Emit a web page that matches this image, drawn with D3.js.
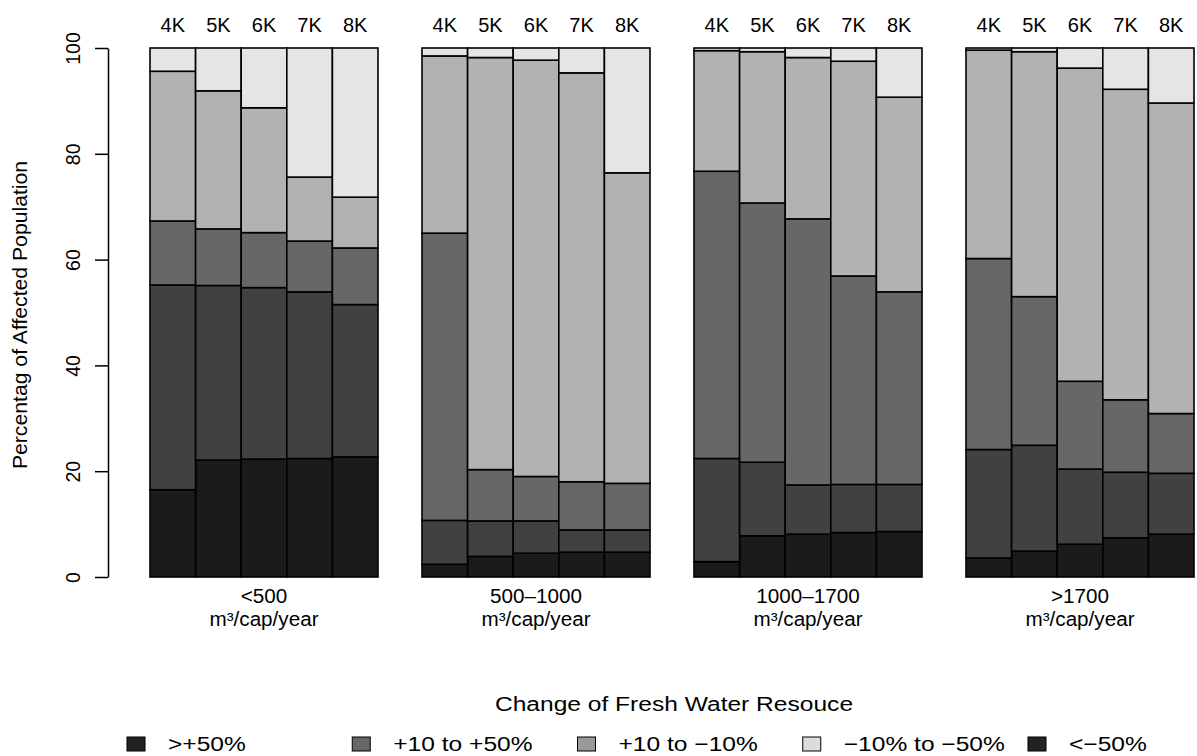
<!DOCTYPE html>
<html>
<head>
<meta charset="utf-8">
<script src="https://cdn.jsdelivr.net/npm/d3@7"></script>
<style>
  body { margin: 0; background: #fff; }
  svg text { font-family: "Liberation Sans", Arial, Helvetica, sans-serif; fill: #000; }
</style>
</head>
<body>
<script>
// regions of per-capita fresh water, one panel each
const regions = ['<500', '500\u20131000', '1000\u20131700', '>1700'];
const unitLabel = 'm\u00b3/cap/year';
const scenarios = ['4K', '5K', '6K', '7K', '8K'];

// change classes, stacked bottom -> top
const classes = ['c1', 'c2', 'c3', 'c4', 'c5'];
const barColors = ['#1b1b1b', '#414141', '#676767', '#b2b2b2', '#e5e5e5'];

const legendLabels = ['>+50%', '+10 to +50%', '+10 to \u221210%', '\u221210% to \u221250%', '<\u221250%'];
const legendColors = ['#222222', '#666666', '#999999', '#dcdcdc', '#222222'];

// percentage of affected population, rows = scenarios, cols = classes (bottom -> top)
const below500 = [
    [16.5, 38.7, 12.1, 28.3, 4.4],
    [22.1, 33.0, 10.7, 26.1, 8.1],
    [22.3, 32.4, 10.4, 23.6, 11.3],
    [22.4, 31.5, 9.6, 12.1, 24.4],
    [22.7, 28.8, 10.7, 9.6, 28.2]
];
const from500to1000 = [
    [2.4, 8.3, 54.3, 33.5, 1.5],
    [3.9, 6.7, 9.7, 77.9, 1.8],
    [4.5, 6.1, 8.4, 78.7, 2.3],
    [4.7, 4.2, 9.1, 77.3, 4.7],
    [4.7, 4.2, 8.8, 58.7, 23.6]
];
const from1000to1700 = [
    [2.9, 19.5, 54.3, 22.8, 0.5],
    [7.8, 13.9, 49.0, 28.6, 0.7],
    [8.1, 9.3, 50.3, 30.5, 1.8],
    [8.4, 9.1, 39.4, 40.6, 2.5],
    [8.6, 8.9, 36.4, 36.8, 9.3]
];
const above1700 = [
    [3.6, 20.5, 36.1, 39.4, 0.4],
    [4.9, 20.0, 28.1, 46.3, 0.7],
    [6.2, 14.2, 16.6, 59.2, 3.8],
    [7.4, 12.4, 13.7, 58.7, 7.8],
    [8.1, 11.5, 11.3, 58.7, 10.4]
];
const panelValues = [below500, from500to1000, from1000to1700, above1700];

const yTicks = [0, 20, 40, 60, 80, 100];

const W = 1197, H = 756;
const O = {
    plotLeft: 150,
    plotRight: 1194,
    plotTop: 48,
    plotBottom: 577,
    axisX: 108,
    fontSize: 19.5
};

const svg = d3.select('body').append('svg')
    .attr('width', W)
    .attr('height', H);

const x0 = d3.scaleBand()
    .domain(regions)
    .range([O.plotLeft, O.plotRight])
    .paddingInner(44 / 272)
    .paddingOuter(0);

const x1 = d3.scaleBand()
    .domain(scenarios)
    .range([0, x0.bandwidth()])
    .padding(0);

const y = d3.scaleLinear()
    .domain([0, 100])
    .range([O.plotBottom, O.plotTop]);

const color = d3.scaleOrdinal().domain(classes).range(barColors);

// text helper, with slight horizontal stretch to mimic the original glyph width
function label(g, txt, x, yy, opts = {}) {
    const rot = opts.rotate || 0;
    const sx = opts.sx || 1;
    return g.append('text')
        .attr('transform', `translate(${x},${yy}) rotate(${rot}) scale(${sx},1)`)
        .attr('text-anchor', opts.anchor || 'middle')
        .attr('font-size', opts.size || O.fontSize)
        .text(txt);
}

const stack = d3.stack().keys(classes);

regions.forEach((region, gi) => {
    const rows = panelValues[gi].map((vals, i) => {
        const row = { scenario: scenarios[i] };
        classes.forEach((c, k) => { row[c] = vals[k]; });
        return row;
    });
    const series = stack(rows);
    const panel = svg.append('g')
        .attr('transform', `translate(${x0(region)},0)`);

    panel.selectAll('g.layer')
        .data(series)
        .join('g')
        .attr('class', 'layer')
        .attr('fill', d => color(d.key))
        .selectAll('rect')
        .data(d => d)
        .join('rect')
        .attr('x', d => x1(d.data.scenario))
        .attr('y', d => y(d[1]))
        .attr('width', x1.bandwidth())
        .attr('height', d => y(d[0]) - y(d[1]))
        .attr('stroke', '#000')
        .attr('stroke-width', 1.6);

    // scenario labels on top
    scenarios.forEach(s => {
        label(panel, s, x1(s) + x1.bandwidth() / 2, 32, { size: 20 });
    });

    // region labels underneath
    const cx = x0.bandwidth() / 2;
    label(panel, region, cx, 603, { sx: 1.06 });
    label(panel, unitLabel, cx, 626, { sx: 1.06 });
});

// y axis
const yAxis = d3.axisLeft(y)
    .tickValues(yTicks)
    .tickSize(13)
    .tickSizeOuter(0)
    .tickFormat(d3.format('d'));

const axisG = svg.append('g')
    .attr('transform', `translate(${O.axisX},0)`)
    .call(yAxis);
axisG.select('.domain').attr('stroke', '#000').attr('stroke-width', 1.5);
axisG.selectAll('.tick line').attr('stroke', '#000').attr('stroke-width', 1.5);
axisG.selectAll('.tick text')
    .attr('x', 0)
    .attr('y', -28)
    .attr('dy', 0)
    .attr('transform', 'rotate(-90)')
    .attr('text-anchor', 'middle')
    .attr('font-size', O.fontSize)
    .attr('font-family', '"Liberation Sans", Arial, sans-serif')
    .attr('fill', '#000');

label(svg, 'Percentag of Affected Population', 27, 315, { rotate: -90, size: 20, sx: 1.06 });

// legend
const legend = svg.append('g');
label(legend, 'Change of Fresh Water Resouce', 674, 711, { size: 21, sx: 1.17 });

const lx = d3.scaleLinear().domain([0, legendLabels.length - 1]).range([127, 1028]);
legendLabels.forEach((txt, i) => {
    legend.append('rect')
        .attr('x', lx(i))
        .attr('y', 737)
        .attr('width', 18)
        .attr('height', 14)
        .attr('fill', legendColors[i])
        .attr('stroke', '#000')
        .attr('stroke-width', 1);
    label(legend, txt, lx(i) + 41, 751, { size: 21, sx: 1.17, anchor: 'start' });
});
</script>
</body>
</html>
